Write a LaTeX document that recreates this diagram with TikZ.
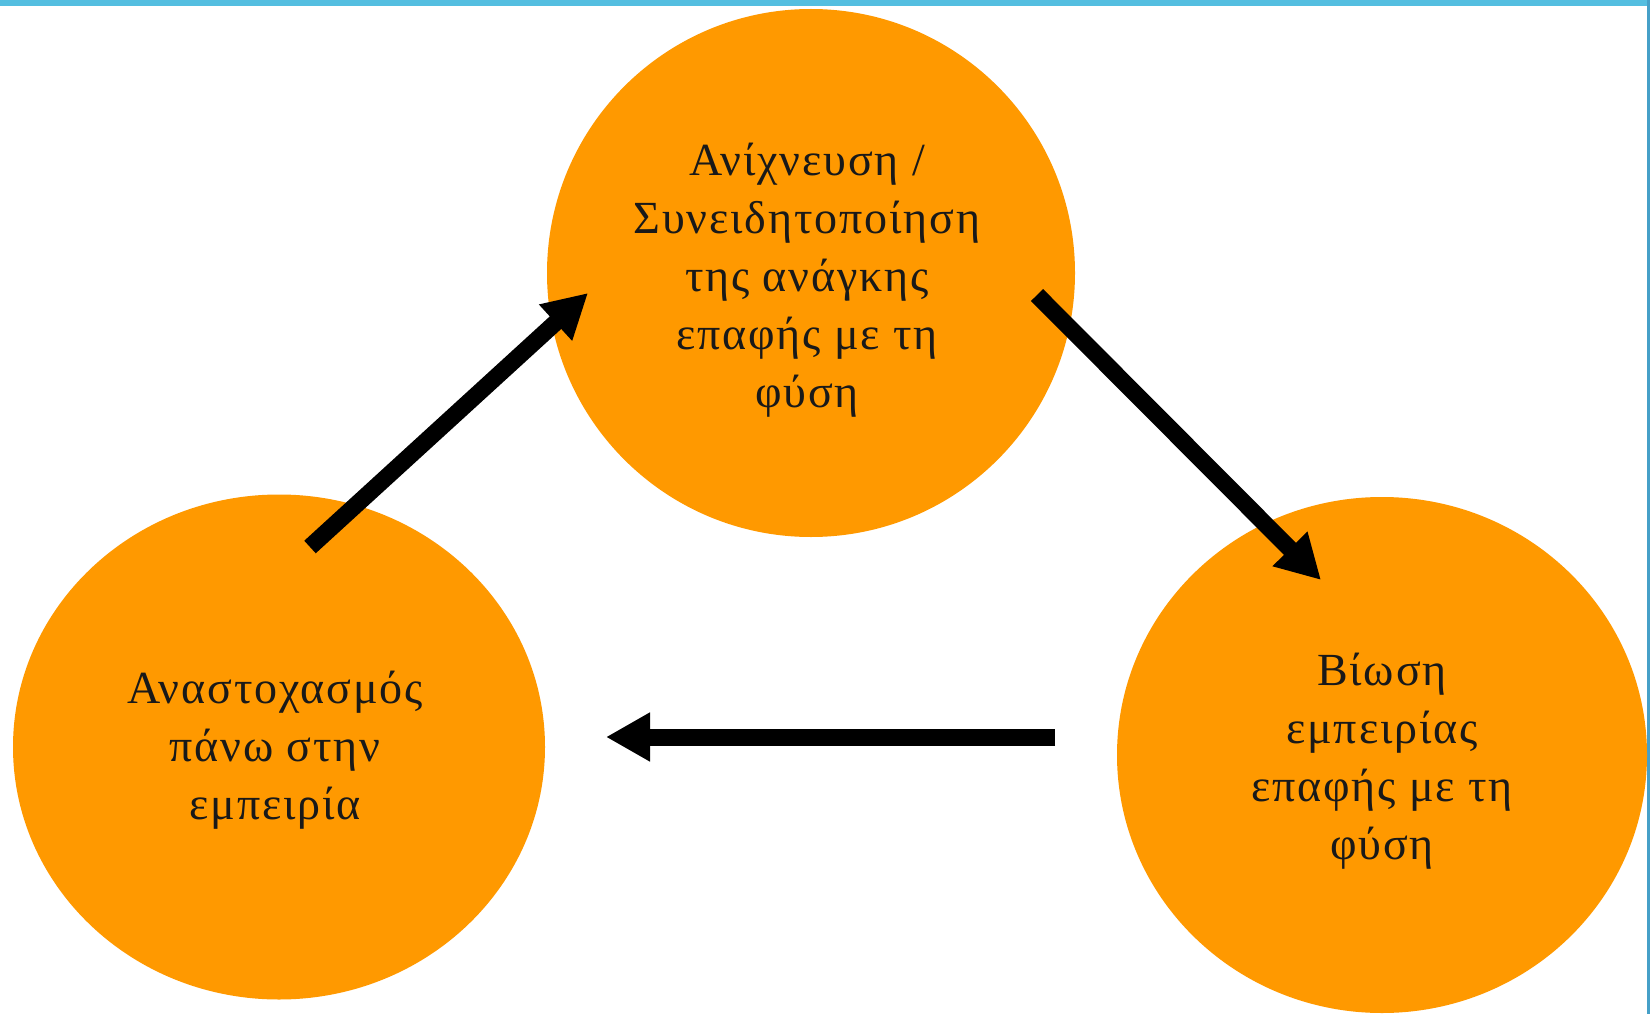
\documentclass[tikz,border=0pt]{standalone}
\usepackage{fontspec}
\setmainfont[LetterSpace=4]{Liberation Serif}
\usetikzlibrary{shapes.geometric,arrows.meta}
\definecolor{orng}{RGB}{255,153,0}
\definecolor{barblue}{RGB}{84,190,224}
\definecolor{edgeblue}{RGB}{70,160,200}
\tikzset{
  bubble/.style={ellipse,fill=orng,draw=none,inner sep=0pt,outer sep=0pt},
  bubbletext/.style={align=center,inner sep=0pt,font=\fontsize{46}{58}\selectfont,text=black!90},
  flow/.style={line width=17pt,draw=black,-{Triangle[length=44pt,width=46pt]}}
}
\begin{document}
\begin{tikzpicture}[x=1pt,y=-1pt]
\useasboundingbox (0,0) rectangle (1650,1014);
\fill[white] (0,0) rectangle (1650,1014);
\fill[barblue] (0,0) rectangle (1650,6);
\fill[edgeblue] (1647,0) rectangle (1650,1014);

\node[bubble,minimum width=528pt,minimum height=528pt] (top) at (811,273) {};
\node[bubble,minimum width=532pt,minimum height=505pt] (left) at (279,747) {};
\node[bubble,minimum width=530pt,minimum height=516pt] (right) at (1382,755) {};

\node[bubbletext] (toptext) at ([shift={(-4,7)}]top.center)
  {Ανίχνευση /\\Συνειδητοποίηση\\της ανάγκης\\επαφής με τη\\φύση};
\node[bubbletext] (lefttext) at ([shift={(-4,3)}]left.center)
  {Αναστοχασμός\\πάνω στην\\εμπειρία};
\node[bubbletext] (righttext) at ([shift={(0,6)}]right.center)
  {Βίωση\\εμπειρίας\\επαφής με τη\\φύση};

\coordinate (a1s) at (310,547);
\coordinate (a1e) at (588,293);
\coordinate (a2s) at (1037,295);
\coordinate (a2e) at (1321,580);
\coordinate (a3s) at (1055,737);
\coordinate (a3e) at (606,737);

\draw[flow] (a1s) -- (a1e);
\draw[flow] (a2s) -- (a2e);
\draw[flow] (a3s) -- (a3e);
\end{tikzpicture}
\end{document}
